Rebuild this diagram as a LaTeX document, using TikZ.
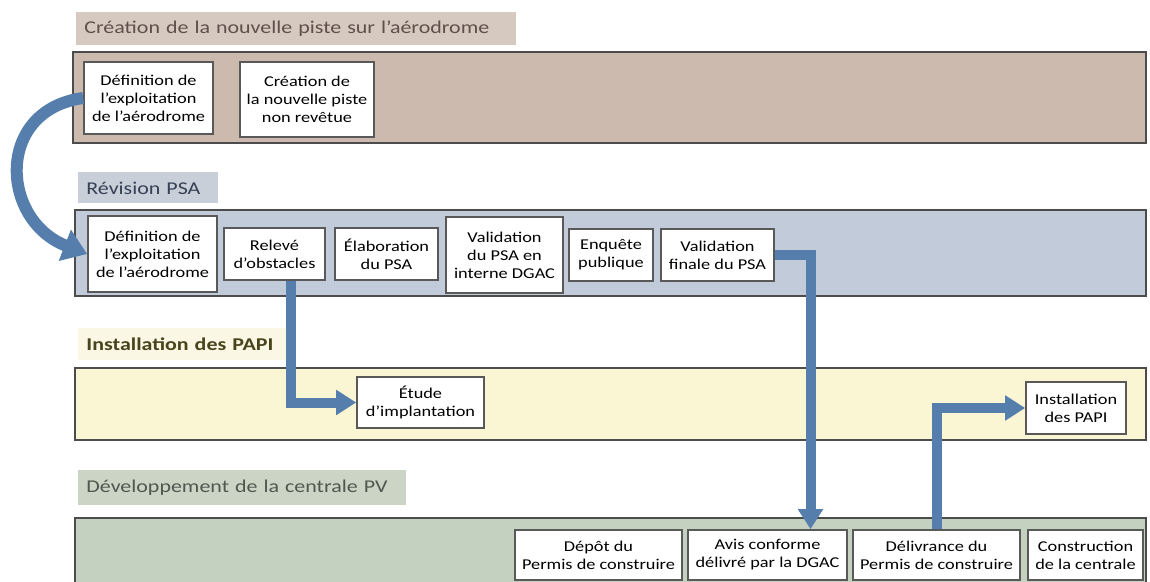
\documentclass[tikz,border=0pt]{standalone}
\usepackage{fontspec}
\setmainfont{Carlito}[FakeStretch=1.22]
\usetikzlibrary{positioning,calc}
\usetikzlibrary{arrows.meta}
\definecolor{PisteBody}{RGB}{203,186,173}
\definecolor{PisteHead}{RGB}{214,201,191}
\definecolor{PisteText}{RGB}{95,80,74}
\definecolor{PsaBody}{RGB}{193,203,217}
\definecolor{PsaHead}{RGB}{200,207,217}
\definecolor{PsaText}{RGB}{55,65,85}
\definecolor{PapiBody}{RGB}{250,246,212}
\definecolor{PapiHead}{RGB}{250,248,228}
\definecolor{PapiText}{RGB}{72,68,28}
\definecolor{PvBody}{RGB}{197,209,192}
\definecolor{PvHead}{RGB}{203,212,197}
\definecolor{PvText}{RGB}{78,88,78}
\definecolor{FlowBlue}{RGB}{86,126,172}
\tikzset{
  lane/.style={draw=black!70,line width=0.8pt},
  hdr/.style={inner xsep=4pt,inner ysep=0pt,anchor=north west,align=left,font=\fontsize{9}{10}\selectfont},
  task/.style={draw=black!65,fill=white,line width=0.8pt,align=center,inner sep=1pt,font=\fontsize{7.5}{9}\selectfont},
  flow/.style={draw=FlowBlue,line width=5pt,-{Triangle[length=10pt,width=12pt]}},
}

\begin{document}
\begin{tikzpicture}[x=0.5pt,y=-0.5pt]
\useasboundingbox (0,0) rectangle (1150,582);
\fill[white] (0,0) rectangle (1150,582);
% lanes
\draw[lane,fill=PisteBody] (73,52) rectangle (1146,143);
\draw[lane,fill=PsaBody] (75,210) rectangle (1146,296);
\draw[lane,fill=PapiBody] (75,368) rectangle (1146,440);
\draw[lane,fill=PvBody] (75,518) rectangle (1146,600);
% lane titles
\node[hdr,fill=PisteHead,text=PisteText,minimum height=16.5pt,text width=212pt] (hpiste) at (76,12) {Création de la nouvelle piste sur l’aérodrome};
\node[hdr,fill=PsaHead,text=PsaText,minimum height=15.5pt,text width=62pt] (hpsa) at (78,172) {Révision PSA};
\node[hdr,fill=PapiHead,text=PapiText,minimum height=16pt,text width=98pt,font=\fontsize{9}{10}\selectfont\bfseries] (hpapi) at (78,328) {Installation des PAPI};
\node[hdr,fill=PvHead,text=PvText,minimum height=17.5pt,text width=156pt] (hpv) at (78,470) {Développement de la centrale PV};
% piste
\node[task,minimum width=64.5pt,minimum height=36pt] (a1) at (148.5,98) {Définition de\\l’exploitation\\de l’aérodrome};
\node[task,minimum width=67pt,minimum height=37.5pt] (a2) at (307,99.5) {Création de\\la nouvelle piste\\non revêtue};
% PSA
\node[task,minimum width=64.5pt,minimum height=38pt] (b1) at (152.5,254) {Définition de\\l’exploitation\\de l’aérodrome};
\node[task,minimum width=50.5pt,minimum height=26pt] (b2) at (274.5,254) {Relevé\\d’obstacles};
\node[task,minimum width=51.5pt,minimum height=26pt] (b3) at (386.5,254) {Élaboration\\du PSA};
\node[task,minimum width=58.5pt,minimum height=38pt] (b4) at (504.5,255) {Validation\\du PSA en\\interne DGAC};
\node[task,minimum width=42pt,minimum height=26pt] (b5) at (611,255) {Enquête\\publique};
\node[task,minimum width=56.5pt,minimum height=26pt] (b6) at (717.5,255) {Validation\\finale du PSA};
% PAPI
\node[task,minimum width=63.5pt,minimum height=25.5pt] (c1) at (420.5,402.5) {Étude\\d’implantation};
\node[task,minimum width=50pt,minimum height=26pt] (c2) at (1076,408) {Installation\\des PAPI};
% PV
\node[task,minimum width=83.5pt,minimum height=25pt] (d1) at (598.5,555) {Dépôt du\\Permis de construire};
\node[task,minimum width=79.5pt,minimum height=25pt] (d2) at (767.5,555) {Avis conforme\\délivré par la DGAC};
\node[task,minimum width=83.5pt,minimum height=25pt] (d3) at (936.5,555) {Délivrance du\\Permis de construire};
\node[task,minimum width=57.5pt,minimum height=25pt] (d4) at (1085.5,555) {Construction\\de la centrale};
% links
\draw[flow,line width=6pt,-{Triangle[length=12pt,width=16pt]}] (a1.west) .. controls (-5,110) and (0,220) .. (b1.west);
\draw[flow] ($(b2.south)+(16,0)$) |- (c1.west);
\draw[flow] (b6.east) -| ($(d2.north)+(43,0)$);
\draw[flow] (d3.north) |- (c2.west);
\end{tikzpicture}
\end{document}
